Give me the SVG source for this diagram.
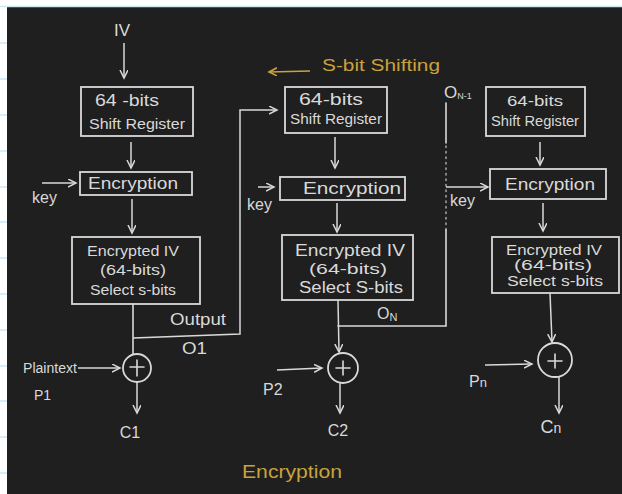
<svg xmlns="http://www.w3.org/2000/svg" width="622" height="494" viewBox="0 0 622 494">
<style>
.ln{stroke:#d9d9d9;stroke-width:1.6;fill:none;stroke-linecap:round}
.bx{stroke:#d9d9d9;stroke-width:1.8;fill:none}
.ar{stroke:#d9d9d9;stroke-width:1.5;fill:none;marker-end:url(#ah)}
.t{font-family:"Liberation Sans",Arial,sans-serif;fill:#d9d9d9}
.tm{text-anchor:middle}
.y{font-family:"Liberation Sans",Arial,sans-serif;fill:#c9a23c}
.paper{stroke:#cde6f6;stroke-width:1.5}
</style>
<defs>
<marker id="ah" markerWidth="10" markerHeight="10" refX="8" refY="4" orient="auto" markerUnits="userSpaceOnUse">
<path d="M0,0 L8,4 L0,8" fill="none" stroke="#d9d9d9" stroke-width="1.5"/>
</marker>
<marker id="ahy" markerWidth="10" markerHeight="10" refX="8" refY="4" orient="auto" markerUnits="userSpaceOnUse">
<path d="M0,0 L8,4 L0,8" fill="none" stroke="#c9a23c" stroke-width="1.6"/>
</marker>
</defs>
<rect x="0" y="0" width="622" height="494" fill="#ffffff"/>
<rect x="7" y="7" width="615" height="487" fill="#1f1f1f"/>
<g id="paper-lines">
<line class="paper" x1="0" y1="6.5" x2="622" y2="6.5"/>
<line class="paper" x1="0" y1="43" x2="7" y2="43"/>
<line class="paper" x1="0" y1="79" x2="7" y2="79"/>
<line class="paper" x1="0" y1="115" x2="7" y2="115"/>
<line class="paper" x1="0" y1="151" x2="7" y2="151"/>
<line class="paper" x1="0" y1="187" x2="7" y2="187"/>
<line class="paper" x1="0" y1="222" x2="7" y2="222"/>
<line class="paper" x1="0" y1="258" x2="7" y2="258"/>
<line class="paper" x1="0" y1="294" x2="7" y2="294"/>
<line class="paper" x1="0" y1="330" x2="7" y2="330"/>
<line class="paper" x1="0" y1="366" x2="7" y2="366"/>
<line class="paper" x1="0" y1="401" x2="7" y2="401"/>
<line class="paper" x1="0" y1="437" x2="7" y2="437"/>
<line class="paper" x1="0" y1="473" x2="7" y2="473"/>
</g>

<g id="connectors">
<line class="ar" x1="124" y1="43" x2="124" y2="78"/>
<line class="ar" x1="131" y1="142" x2="131" y2="168"/>
<line class="ar" x1="42" y1="183" x2="76" y2="183"/>
<line class="ar" x1="132" y1="199" x2="132" y2="233"/>
<line class="ln" x1="133" y1="304" x2="133" y2="354"/>
<polyline class="ar" points="133,338 240,334 240,110 277,110"/>
<line class="ar" x1="78" y1="368" x2="120" y2="368"/>
<line class="ar" x1="137" y1="382" x2="137" y2="413"/>

<line class="ar" x1="335" y1="137" x2="335" y2="168"/>
<line class="ar" x1="258" y1="187" x2="274" y2="187"/>
<line class="ar" x1="337" y1="203" x2="337" y2="232"/>
<line class="ar" x1="338" y1="300" x2="339" y2="352"/>
<polyline class="ln" points="338,326 446,326 446,230"/>
<line class="ln" x1="446" y1="230" x2="446" y2="143" stroke-dasharray="1.5,4" stroke-opacity="0.7"/>
<line class="ln" x1="446" y1="143" x2="446" y2="103"/>
<line class="ar" x1="446" y1="187" x2="488" y2="187"/>
<line class="ar" x1="277" y1="370" x2="322" y2="368"/>
<line class="ar" x1="340" y1="383" x2="340" y2="413"/>

<line class="ar" x1="540" y1="142" x2="540" y2="165"/>
<line class="ar" x1="543" y1="203" x2="543" y2="231"/>
<line class="ar" x1="550" y1="293" x2="552" y2="342"/>
<line class="ar" x1="485" y1="365" x2="532" y2="364"/>
<line class="ar" x1="559" y1="377" x2="559" y2="413"/>
</g>

<g id="iv"><text class="t tm" x="122" y="36" style="font-size:17px">IV</text></g>

<g id="shift1">
<rect class="bx" x="81" y="87" width="112" height="49"/>
<text class="t tm" x="127" y="106" style="font-size:16px" textLength="64" lengthAdjust="spacingAndGlyphs">64 -bits</text>
<text class="t tm" x="137" y="129" style="font-size:14px" textLength="96" lengthAdjust="spacingAndGlyphs">Shift Register</text>
</g>
<g id="enc1">
<rect class="bx" x="80" y="172" width="112" height="23"/>
<text class="t tm" x="133" y="189" style="font-size:16px" textLength="90" lengthAdjust="spacingAndGlyphs">Encryption</text>
</g>
<g id="key1"><text class="t" x="32" y="203" style="font-size:16px">key</text></g>
<g id="eiv1">
<rect class="bx" x="72" y="237" width="128" height="67"/>
<text class="t tm" x="133" y="256" style="font-size:14px" textLength="92" lengthAdjust="spacingAndGlyphs">Encrypted IV</text>
<text class="t tm" x="133" y="275" style="font-size:14px" textLength="66" lengthAdjust="spacingAndGlyphs">(64-bits)</text>
<text class="t tm" x="133" y="295" style="font-size:14px" textLength="86" lengthAdjust="spacingAndGlyphs">Select s-bits</text>
</g>
<g id="out1">
<text class="t" x="170" y="325" style="font-size:16px" textLength="56" lengthAdjust="spacingAndGlyphs">Output</text>
<text class="t" x="182" y="354" style="font-size:16px" textLength="25" lengthAdjust="spacingAndGlyphs">O1</text>
</g>
<g id="xor1">
<circle class="bx" cx="137" cy="368" r="14"/>
<path class="ln" d="M130,367 H144 M137,360 V376"/>
</g>
<g id="p1">
<text class="t" x="23" y="373" style="font-size:14px" textLength="54" lengthAdjust="spacingAndGlyphs">Plaintext</text>
<text class="t" x="34" y="400" style="font-size:14px">P1</text>
</g>
<g id="c1"><text class="t tm" x="130" y="438" style="font-size:16px">C1</text></g>

<g id="shift2">
<rect class="bx" x="285" y="87" width="102" height="46"/>
<text class="t tm" x="331" y="105" style="font-size:16px" textLength="64" lengthAdjust="spacingAndGlyphs">64-bits</text>
<text class="t tm" x="336" y="124" style="font-size:14px" textLength="92" lengthAdjust="spacingAndGlyphs">Shift Register</text>
</g>
<g id="enc2">
<rect class="bx" x="280" y="177" width="125" height="23"/>
<text class="t tm" x="352" y="194" style="font-size:16px" textLength="98" lengthAdjust="spacingAndGlyphs">Encryption</text>
</g>
<g id="key2"><text class="t" x="247" y="210" style="font-size:16px">key</text></g>
<g id="eiv2">
<rect class="bx" x="282" y="235" width="131" height="65"/>
<text class="t tm" x="350" y="256" style="font-size:16px" textLength="110" lengthAdjust="spacingAndGlyphs">Encrypted IV</text>
<text class="t tm" x="348" y="274" style="font-size:15px" textLength="78" lengthAdjust="spacingAndGlyphs">(64-bits)</text>
<text class="t tm" x="351" y="293" style="font-size:16px" textLength="104" lengthAdjust="spacingAndGlyphs">Select S-bits</text>
</g>
<g id="on"><text class="t" x="377" y="319" style="font-size:16px">O<tspan style="font-size:11px" dy="2">N</tspan></text></g>
<g id="xor2">
<circle class="bx" cx="343" cy="368" r="15"/>
<path class="ln" d="M336,368 H350 M343,361 V375"/>
</g>
<g id="p2"><text class="t" x="263" y="395" style="font-size:16px">P2</text></g>
<g id="c2"><text class="t tm" x="338" y="436" style="font-size:16px">C2</text></g>

<g id="on1"><text class="t" x="444" y="98" style="font-size:17px">O<tspan style="font-size:9px" dy="1">N-1</tspan></text></g>
<g id="shift3">
<rect class="bx" x="486" y="87" width="99" height="49"/>
<text class="t tm" x="535" y="106" style="font-size:15px" textLength="56" lengthAdjust="spacingAndGlyphs">64-bits</text>
<text class="t tm" x="535" y="126" style="font-size:14px" textLength="88" lengthAdjust="spacingAndGlyphs">Shift Register</text>
</g>
<g id="enc3">
<rect class="bx" x="490" y="169" width="116" height="30"/>
<text class="t tm" x="550" y="190" style="font-size:16px" textLength="90" lengthAdjust="spacingAndGlyphs">Encryption</text>
</g>
<g id="key3"><text class="t" x="450" y="206" style="font-size:16px">key</text></g>
<g id="eiv3">
<rect class="bx" x="492" y="237" width="127" height="56"/>
<text class="t tm" x="554" y="255" style="font-size:15px" textLength="96" lengthAdjust="spacingAndGlyphs">Encrypted IV</text>
<text class="t tm" x="553" y="270" style="font-size:14px" textLength="78" lengthAdjust="spacingAndGlyphs">(64-bits)</text>
<text class="t tm" x="555" y="286" style="font-size:15px" textLength="96" lengthAdjust="spacingAndGlyphs">Select s-bits</text>
</g>
<g id="xor3">
<circle class="bx" cx="555" cy="360" r="17"/>
<path class="ln" d="M548,361 H562 M555,354 V368"/>
</g>
<g id="pn"><text class="t" x="469" y="387" style="font-size:16px">P<tspan style="font-size:13px">n</tspan></text></g>
<g id="cn"><text class="t tm" x="551" y="433" style="font-size:18px">C<tspan style="font-size:14px">n</tspan></text></g>

<g id="shift-note">
<line x1="310" y1="71" x2="269" y2="72" stroke="#c9a23c" stroke-width="1.6" marker-end="url(#ahy)"/>
<text class="y" x="322" y="71" style="font-size:16px" textLength="118" lengthAdjust="spacingAndGlyphs">S-bit Shifting</text>
</g>
<g id="title"><text class="y" x="242" y="478" style="font-size:19px" textLength="100" lengthAdjust="spacingAndGlyphs">Encryption</text></g>
</svg>
